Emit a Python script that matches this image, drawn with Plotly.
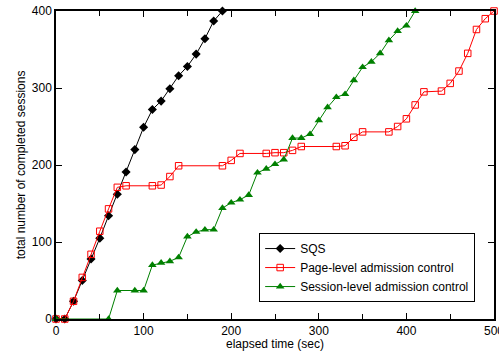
import plotly.graph_objects as go

# SQS
sqs_x = [0, 10, 20, 30, 40, 50, 60, 70, 80, 90, 100, 110, 120, 130, 140, 150, 160, 170, 180, 190]
sqs_y = [0, 0, 23, 50, 78, 105, 134, 162, 191, 220, 249, 272, 283, 299, 316, 328, 344, 364, 387, 400]

# Page-level admission control
page_x = [0, 10, 20, 30, 40, 50, 60, 70, 80, 110, 120, 130, 140, 190, 200, 210, 240, 250, 260, 270,
          280, 320, 330, 340, 350, 380, 390, 400, 410, 420, 440, 450, 460, 470, 480, 490, 500]
page_y = [0, 0, 23, 54, 84, 114, 143, 171, 173, 173, 174, 185, 199, 199, 206, 215, 215, 216, 216, 219,
          224, 224, 225, 236, 243, 243, 250, 260, 278, 295, 296, 306, 322, 345, 376, 390, 400]

# Session-level admission control
sess_x = [0, 60, 70, 90, 100, 110, 120, 130, 140, 150, 160, 170, 180, 190, 200, 210, 220, 230, 240,
          250, 260, 270, 280, 290, 300, 310, 320, 330, 340, 350, 360, 370, 380, 390, 400, 410]
sess_y = [0, 0, 37, 37, 37, 70, 73, 75, 80, 107, 113, 116, 116, 144, 151, 155, 161, 190, 195,
          201, 207, 235, 235, 240, 258, 275, 288, 292, 310, 327, 334, 345, 362, 374, 381, 400]

x_ticks = [0, 100, 200, 300, 400, 500]
y_ticks = [0, 100, 200, 300, 400]

FONT = "Liberation Sans, Arial, Helvetica, sans-serif"

fig = go.Figure()
fig.add_trace(go.Scatter(
    x=sqs_x, y=sqs_y, name="SQS", mode="lines+markers", cliponaxis=False,
    line=dict(color="black", width=1),
    marker=dict(symbol="diamond", size=7, color="black")))
fig.add_trace(go.Scatter(
    x=page_x, y=page_y, name="Page-level admission control", mode="lines+markers", cliponaxis=False,
    line=dict(color="#ff0000", width=1),
    marker=dict(symbol="square-open", size=6.5, color="#ff0000", line=dict(width=1))))
fig.add_trace(go.Scatter(
    x=sess_x, y=sess_y, name="Session-level admission control", mode="lines+markers", cliponaxis=False,
    line=dict(color="#008000", width=1),
    marker=dict(symbol="triangle-up", size=7.5, color="#008000")))

fig.update_layout(
    width=499, height=351,
    margin=dict(l=56, r=5, t=11, b=32),
    paper_bgcolor="white", plot_bgcolor="white",
    font=dict(family=FONT, size=12, color="black"),
    showlegend=True,
    legend=dict(x=0.957, y=0.055, xanchor="right", yanchor="bottom",
                bgcolor="white", bordercolor="black", borderwidth=1,
                font=dict(size=12), tracegroupgap=0),
    xaxis=dict(range=[0, 500], tickvals=x_ticks, ticks="inside", ticklen=6, tickcolor="black",
               showline=True, linecolor="black", linewidth=1.5, mirror="ticks",
               showgrid=False, zeroline=False, ticklabeloverflow="allow", automargin=False,
               minor=dict(dtick=50, tick0=0, ticks="inside", ticklen=5, tickcolor="black", showgrid=False),
               title=dict(text="elapsed time (sec)", standoff=1, font=dict(size=12)),
               tickfont=dict(size=12)),
    yaxis=dict(range=[0, 400], tickvals=y_ticks, ticks="inside", ticklen=6, tickcolor="black",
               showline=True, linecolor="black", linewidth=1.5, mirror="ticks",
               showgrid=False, zeroline=False, ticklabeloverflow="allow", automargin=False,
               title=dict(text="total number of completed sessions", standoff=4, font=dict(size=12)),
               tickfont=dict(size=12)),
)

fig.write_html("out.html")
